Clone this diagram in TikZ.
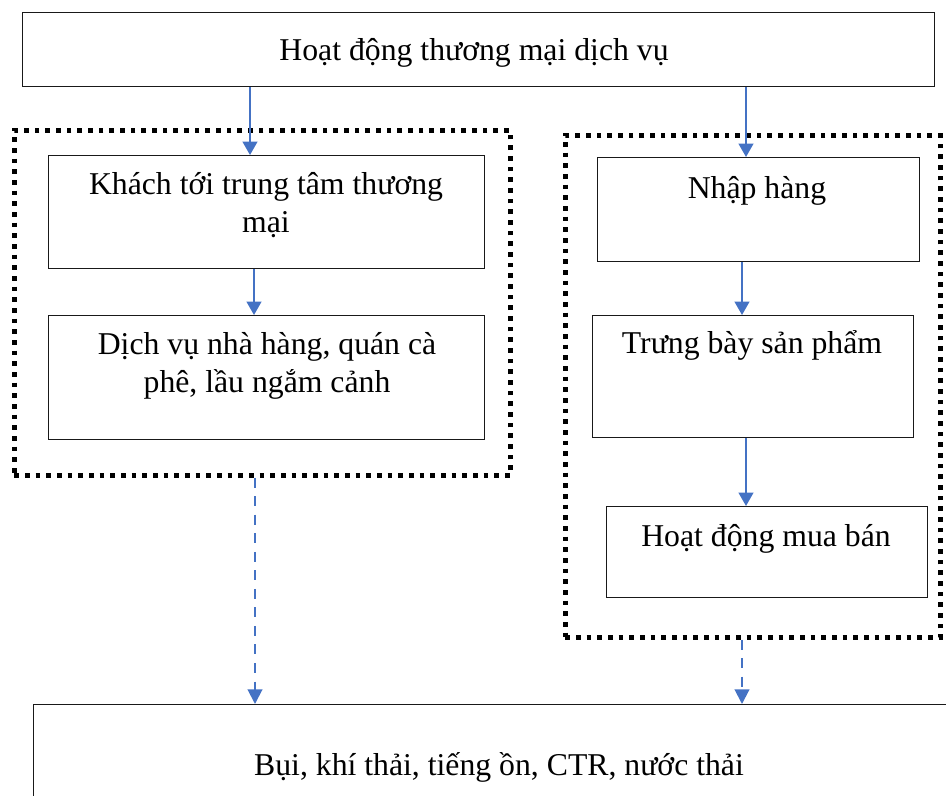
\documentclass[tikz,border=0pt]{standalone}
\usepackage{fontspec}
\setmainfont{Liberation Serif}
\usetikzlibrary{arrows.meta}
\definecolor{flowblue}{RGB}{68,114,196}
\begin{document}
\begin{tikzpicture}[x=0.75pt,y=-0.75pt,
  box/.style={draw=black!90,line width=1.1pt,rectangle,inner sep=0pt},
  grp/.style={draw=black,line width=3.5pt,dash pattern=on 3.5pt off 4.5pt,rectangle,inner sep=0pt},
  lbl/.style={font=\fontsize{23.8}{28}\selectfont,align=center,inner sep=0pt},
  arr/.style={draw=flowblue,line width=1.5pt,-{Triangle[length=10pt,width=11pt]}},
  darr/.style={draw=flowblue,line width=1.5pt,dash pattern=on 7.5pt off 6.4pt,-{Triangle[length=11pt,width=11pt]}}]
\useasboundingbox (0,0) rectangle (946,796);

% dotted group frames
\node[grp,minimum width=496*0.75pt,minimum height=345*0.75pt,anchor=north west] (grpL) at (12,128) {};
\node[grp,minimum width=375*0.75pt,minimum height=502*0.75pt,anchor=north west] (grpR) at (563,133) {};

% process boxes
\node[box,minimum width=912*0.75pt,minimum height=74*0.75pt,anchor=north west] (top) at (22,12) {};
\node[box,minimum width=436*0.75pt,minimum height=113*0.75pt,anchor=north west] (kh) at (48,155) {};
\node[box,minimum width=436*0.75pt,minimum height=124*0.75pt,anchor=north west] (dv) at (48,315) {};
\node[box,minimum width=322*0.75pt,minimum height=104*0.75pt,anchor=north west] (nh) at (597,157) {};
\node[box,minimum width=321*0.75pt,minimum height=122*0.75pt,anchor=north west] (tb) at (592,315) {};
\node[box,minimum width=321*0.75pt,minimum height=91*0.75pt,anchor=north west] (mb) at (606,506) {};
\node[box,minimum width=960*0.75pt,minimum height=140*0.75pt,anchor=north west] (bot) at (33,704) {};

% texts (base anchor = baseline of the last line)
\node[lbl,anchor=base] (tTop) at (474,60) {Hoạt động thương mại dịch vụ};
\node[lbl,anchor=base] (tKh) at (266,232) {Khách tới trung tâm thương\\mại};
\node[lbl,anchor=base] (tDv) at (267,392) {Dịch vụ nhà hàng, quán cà\\phê, lầu ngắm cảnh};
\node[lbl,anchor=base] (tNh) at (757,198) {Nhập hàng};
\node[lbl,anchor=base] (tTb) at (752,353) {Trưng bày sản phẩm};
\node[lbl,anchor=base] (tMb) at (766,546) {Hoạt động mua bán};
\node[lbl,anchor=base] (tBot) at (499,775) {Bụi, khí thải, tiếng ồn, CTR, nước thải};

% solid flow arrows
\draw[arr] (top.south -| 250,0) -- (kh.north -| 250,0);
\draw[arr] (top.south -| 746,0) -- (nh.north -| 746,0);
\draw[arr] (kh.south -| 254,0) -- (dv.north -| 254,0);
\draw[arr] (nh.south -| 742,0) -- (tb.north -| 742,0);
\draw[arr] (tb.south -| 746,0) -- (mb.north -| 746,0);

% dashed arrows to the emissions box
\draw[darr] (grpL.south -| 255,0) -- (bot.north -| 255,0);
\draw[darr] (grpR.south -| 742,0) -- (bot.north -| 742,0);
\end{tikzpicture}
\end{document}
